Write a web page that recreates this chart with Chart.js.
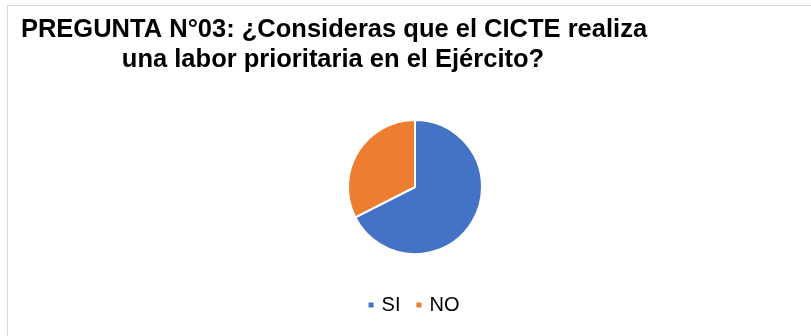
<!DOCTYPE html>
<html>
<head>
<meta charset="utf-8">
<script src="https://cdn.jsdelivr.net/npm/chart.js@4.4.0/dist/chart.umd.min.js"></script>
<style>
    html, body { margin: 0; padding: 0; background: #fff; }
    #wrap { position: relative; width: 811px; height: 336px; overflow: hidden; }
    #frame { position: absolute; left: 7px; top: 5px; width: 830px; height: 360px; border: 1px solid #d9d9d9; }
    canvas { position: absolute; left: 0; top: 0; }
</style>
</head>
<body>
<div id="wrap">
    <div id="frame"></div>
    <canvas id="pieChart" width="811" height="336"></canvas>
</div>
<script>
const titleLines = [
    'PREGUNTA N°03: ¿Consideras que el CICTE realiza',
    'una labor prioritaria en el Ejército?'
];
const labels = ['SI', 'NO'];
const values = [27, 13];
const colors = ['#4472C4', '#ED7D31'];

// title lines are centred on each other, block sits at the left
const leftTitle = {
    id: 'leftTitle',
    afterDraw(chart) {
        const ctx = chart.ctx;
        ctx.save();
        ctx.font = 'bold 25.5px "Liberation Sans", Arial, sans-serif';
        ctx.fillStyle = '#000';
        ctx.textAlign = 'center';
        ctx.textBaseline = 'alphabetic';
        ctx.fillText(titleLines[0], 334, 37);
        ctx.fillText(titleLines[1], 333, 67);
        ctx.restore();
    }
};

document.addEventListener('DOMContentLoaded', () => {
    const ctx = document.getElementById('pieChart');
    new Chart(ctx, {
        type: 'pie',
        data: {
            labels: labels,
            datasets: [{
                data: values,
                backgroundColor: colors,
                borderColor: '#fff',
                borderWidth: 2
            }]
        },
        options: {
            responsive: false,
            animation: false,
            radius: 67,
            layout: { padding: { top: 97, bottom: 11, left: 19, right: 0 } },
            plugins: {
                tooltip: { enabled: false },
                legend: {
                    position: 'bottom',
                    labels: {
                        usePointStyle: true,
                        pointStyle: 'rect',
                        boxWidth: 1,
                        boxHeight: 7,
                        padding: 18,
                        color: '#000',
                        font: { family: '"Liberation Sans", Arial, sans-serif', size: 20 }
                    }
                }
            }
        },
        plugins: [leftTitle]
    });
});
</script>
</body>
</html>
